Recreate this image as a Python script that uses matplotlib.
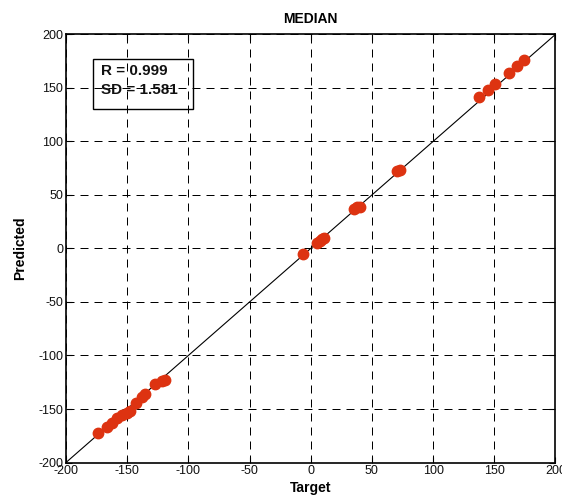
import matplotlib
matplotlib.use("Agg")
import matplotlib.pyplot as plt
from matplotlib.patches import Rectangle

plt.rcParams['font.family'] = ['Liberation Sans', 'DejaVu Sans']
plt.rcParams['axes.unicode_minus'] = False

# Target vs predicted values (median model)
target = [-173.5, -166.7, -162.6, -158.5, -154.4, -150.3, -148.0, -142.7,
          -138.0, -135.4, -127.2, -121.7, -119.0,
          -6.5, 4.9, 7.5, 9.0, 10.5, 35.5, 37.5, 40.3, 70.5, 73.0,
          137.7, 145.0, 150.6, 162.3, 168.8, 174.3]
predicted = [-172.0, -166.5, -162.8, -158.7, -156.0, -154.0, -152.0, -144.0,
             -138.5, -136.0, -126.6, -123.5, -123.0,
             -5.4, 5.4, 7.0, 8.6, 9.5, 37.0, 38.5, 39.0, 72.0, 73.5,
             141.9, 148.0, 153.4, 164.3, 170.6, 176.2]

ticks = [-200, -150, -100, -50, 0, 50, 100, 150, 200]
r_value = 0.999
sd_value = 1.581

fig = plt.figure(figsize=(5.62, 4.99), dpi=100)
ax = fig.add_axes([0.1174, 0.0731, 0.871, 0.858])

ax.set_xlim(-200, 200)
ax.set_ylim(-200, 200)
ax.set_xticks(ticks)
ax.set_yticks(ticks)
ax.grid(True, color='black', linestyle=(0, (8, 6)), linewidth=0.72)
ax.set_axisbelow(True)

# identity line
ax.plot([-200, 200], [-200, 200], color='black', linewidth=0.8, zorder=3)
ax.plot(target, predicted, 'o', color='#DD3311', markeredgecolor='#DD3311',
        markersize=7.5, zorder=4)

ax.tick_params(direction='in', top=True, right=True, labelsize=9,
               length=4, width=0.8, pad=2, labelcolor='#111111')
for s in ax.spines.values():
    s.set_linewidth(1.2)

ax.set_title('MEDIAN', fontsize=10, fontweight='bold', pad=8)
ax.set_xlabel('Target', fontsize=10, fontweight='bold', labelpad=3)
ax.set_ylabel('Predicted', fontsize=10, fontweight='bold', labelpad=8)

ax.add_patch(Rectangle((-177.9, 130.4), 81.7, 46.6, fill=False,
                       edgecolor='black', linewidth=1.0, zorder=5))
ax.text(-171.5, 166, f'R = {r_value:.3f}', fontsize=11, fontweight='bold',
        va='center', ha='left', zorder=6, color='#111111')
ax.text(-171.5, 148.5, f'SD = {sd_value:.3f}', fontsize=11, fontweight='bold',
        va='center', ha='left', zorder=6, color='#111111')

fig.savefig('out.png', dpi=100)
